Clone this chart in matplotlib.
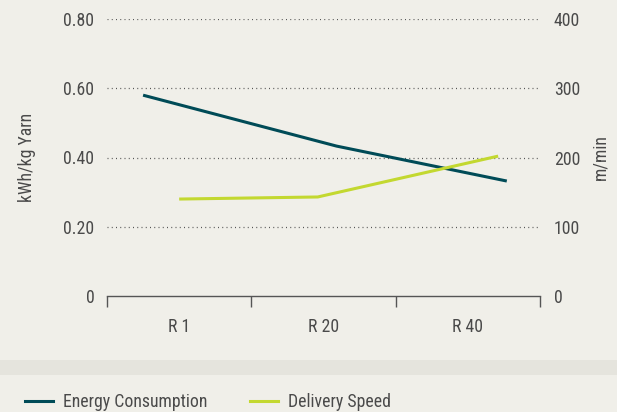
import matplotlib
matplotlib.use("Agg")
import matplotlib.pyplot as plt
from matplotlib.patches import Rectangle

plt.rcParams['font.family'] = ['Roboto Condensed', 'Roboto', 'DejaVu Sans']

# data
categories = ['R 1', 'R 20', 'R 40']
energy_x = [0.25, 1.59, 2.77]
energy = [0.58, 0.433, 0.332]          # kWh/kg yarn
speed_x = [0.50, 1.46, 2.71]
speed = [140, 143, 202]                # m/min
left_ticks = [0, 0.2, 0.4, 0.6, 0.8]
left_labels = ['0', '0.20', '0.40', '0.60', '0.80']
right_ticks = [0, 100, 200, 300, 400]

bg = '#f0efe9'
c_energy = '#004b57'
c_speed = '#c3d830'
txt = '#4a4a4a'
fs = 12.8

fig = plt.figure(figsize=(6.17, 4.12), dpi=100, facecolor=bg)
ax = fig.add_axes([107/617, 1-296/412, 433/617, 277/412])
ax.set_facecolor(bg)
ax2 = ax.twinx()

ax.set_xlim(0, 3)
ax.set_ylim(0, 0.8)
ax2.set_ylim(0, 400)

for t in left_ticks[1:]:
    ax.axhline(t, color='#555555', linestyle=(0, (0.8, 2.6)), linewidth=0.9, zorder=1)

ax.plot(energy_x, energy, color=c_energy, linewidth=2.2, solid_capstyle='butt', zorder=3)
ax2.plot(speed_x, speed, color=c_speed, linewidth=2.2, solid_capstyle='butt', zorder=3)

for a in (ax, ax2):
    for s in ('top', 'left', 'right'):
        a.spines[s].set_visible(False)
ax2.spines['bottom'].set_visible(False)
ax.spines['bottom'].set_color('#555555')
ax.spines['bottom'].set_linewidth(1.0)

ax.set_xticks([0, 1, 2, 3])
ax.set_xticklabels([])
ax.tick_params(axis='x', direction='out', length=8, width=1.0, color='#555555')
ax.set_xticks([0.5, 1.5, 2.5], minor=True)
ax.set_xticklabels(categories, minor=True, fontsize=fs, color=txt)
ax.tick_params(axis='x', which='minor', length=0, pad=16)

ax.set_yticks(left_ticks)
ax.set_yticklabels(left_labels, fontsize=fs, color=txt)
ax.tick_params(axis='y', length=0, pad=9)
ax2.set_yticks(right_ticks)
ax2.set_yticklabels([str(v) for v in right_ticks], fontsize=fs, color=txt)
ax2.tick_params(axis='y', length=0, pad=10)

ax.set_ylabel('kWh/kg Yarn', fontsize=fs, color=txt, labelpad=20)
ax2.set_ylabel('m/min', fontsize=fs, color=txt, labelpad=8)

# separator band
fig.patches.append(Rectangle((0, 1-375/412), 1, 15/412, transform=fig.transFigure,
                             facecolor='#e5e4dd', edgecolor='none', zorder=0))

h1, = ax.plot([], [], color=c_energy, linewidth=2.2, label='Energy Consumption')
h2, = ax.plot([], [], color=c_speed, linewidth=2.2, label='Delivery Speed')
fig.legend(handles=[h1, h2], loc='center left', bbox_to_anchor=(25/617, 1-402/412),
           ncol=2, frameon=False, fontsize=fs, handlelength=1.55, handletextpad=0.6,
           columnspacing=2.4, labelcolor=txt, borderaxespad=0, borderpad=0)

fig.savefig('out.png', dpi=100, facecolor=bg)
